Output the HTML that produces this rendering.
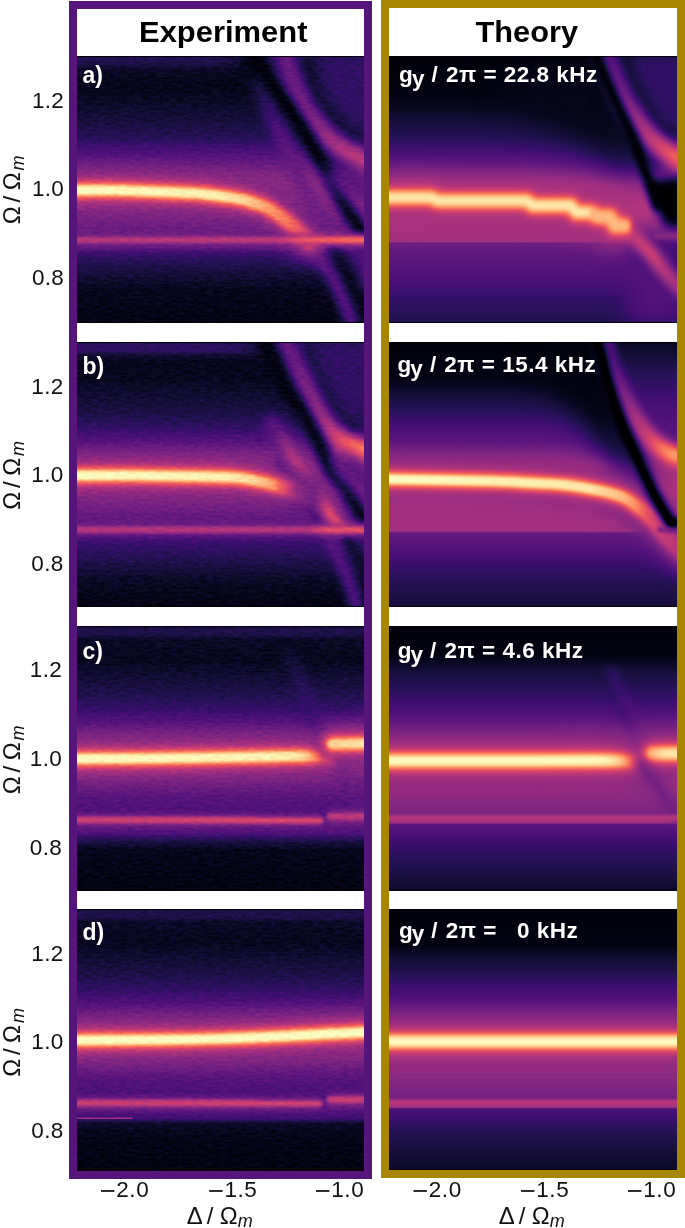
<!DOCTYPE html>
<html><head><meta charset="utf-8"><title>Figure</title>
<style>
html,body{margin:0;padding:0;background:#fff;}
body{width:685px;height:1228px;position:relative;overflow:hidden;font-family:"Liberation Sans",sans-serif;}
.box{position:absolute;box-sizing:border-box;z-index:2;}
.pn{position:absolute;overflow:hidden;background:#000;}
.pn svg{display:block;}
.t{position:absolute;white-space:nowrap;line-height:1;}
.hd{font-weight:bold;font-size:29px;color:#000;}
.tk{font-size:20px;color:#111;}
.lb{font-weight:bold;color:#fff;font-size:21px;}
.ax{font-size:23px;color:#111;}
.ax i{font-size:17px;position:relative;top:5px;}
.mnb{position:absolute;width:13.4px;height:1.75px;background:#111;}
.pl{font-weight:bold;color:#fff;font-size:24px;}
.lb sub{font-size:17px;vertical-align:baseline;position:relative;top:4px;}
.rl{transform-origin:0 0;transform:rotate(-90deg);}
</style></head><body>
<svg width="0" height="0" style="position:absolute"><defs><filter id="b0_5" filterUnits="userSpaceOnUse" x="-60" y="-60" width="420" height="400" color-interpolation-filters="sRGB"><feGaussianBlur stdDeviation="0.5"/></filter><filter id="b1" filterUnits="userSpaceOnUse" x="-60" y="-60" width="420" height="400" color-interpolation-filters="sRGB"><feGaussianBlur stdDeviation="1"/></filter><filter id="b1_5" filterUnits="userSpaceOnUse" x="-60" y="-60" width="420" height="400" color-interpolation-filters="sRGB"><feGaussianBlur stdDeviation="1.5"/></filter><filter id="b1_8" filterUnits="userSpaceOnUse" x="-60" y="-60" width="420" height="400" color-interpolation-filters="sRGB"><feGaussianBlur stdDeviation="1.8"/></filter><filter id="b2" filterUnits="userSpaceOnUse" x="-60" y="-60" width="420" height="400" color-interpolation-filters="sRGB"><feGaussianBlur stdDeviation="2"/></filter><filter id="b2_5" filterUnits="userSpaceOnUse" x="-60" y="-60" width="420" height="400" color-interpolation-filters="sRGB"><feGaussianBlur stdDeviation="2.5"/></filter><filter id="b3" filterUnits="userSpaceOnUse" x="-60" y="-60" width="420" height="400" color-interpolation-filters="sRGB"><feGaussianBlur stdDeviation="3"/></filter><filter id="b4" filterUnits="userSpaceOnUse" x="-60" y="-60" width="420" height="400" color-interpolation-filters="sRGB"><feGaussianBlur stdDeviation="4"/></filter><filter id="b4_5" filterUnits="userSpaceOnUse" x="-60" y="-60" width="420" height="400" color-interpolation-filters="sRGB"><feGaussianBlur stdDeviation="4.5"/></filter><filter id="b5" filterUnits="userSpaceOnUse" x="-60" y="-60" width="420" height="400" color-interpolation-filters="sRGB"><feGaussianBlur stdDeviation="5"/></filter><filter id="b6" filterUnits="userSpaceOnUse" x="-60" y="-60" width="420" height="400" color-interpolation-filters="sRGB"><feGaussianBlur stdDeviation="6"/></filter><filter id="b8" filterUnits="userSpaceOnUse" x="-60" y="-60" width="420" height="400" color-interpolation-filters="sRGB"><feGaussianBlur stdDeviation="8"/></filter><filter id="b10" filterUnits="userSpaceOnUse" x="-60" y="-60" width="420" height="400" color-interpolation-filters="sRGB"><feGaussianBlur stdDeviation="10"/></filter><filter id="b11" filterUnits="userSpaceOnUse" x="-60" y="-60" width="420" height="400" color-interpolation-filters="sRGB"><feGaussianBlur stdDeviation="11"/></filter><filter id="b14" filterUnits="userSpaceOnUse" x="-60" y="-60" width="420" height="400" color-interpolation-filters="sRGB"><feGaussianBlur stdDeviation="14"/></filter><filter id="b16" filterUnits="userSpaceOnUse" x="-60" y="-60" width="420" height="400" color-interpolation-filters="sRGB"><feGaussianBlur stdDeviation="16"/></filter><filter id="magma" x="0" y="0" width="100%" height="100%" filterUnits="objectBoundingBox" color-interpolation-filters="sRGB"><feComponentTransfer><feFuncR type="table" tableValues="0.0015 0.0137 0.0396 0.0743 0.1131 0.1590 0.2117 0.2654 0.3167 0.3660 0.4147 0.4635 0.5128 0.5629 0.6136 0.6649 0.7164 0.7674 0.8169 0.8633 0.9043 0.9372 0.9609 0.9767 0.9867 0.9928 0.9961 0.9973 0.9969 0.9951 0.9924 0.9894 0.9871"/><feFuncG type="table" tableValues="0.0005 0.0118 0.0311 0.0520 0.0655 0.0684 0.0620 0.0602 0.0717 0.0903 0.1104 0.1299 0.1482 0.1654 0.1818 0.1981 0.2150 0.2337 0.2559 0.2837 0.3196 0.3649 0.4183 0.4762 0.5356 0.5949 0.6537 0.7118 0.7696 0.8271 0.8843 0.9415 0.9914"/><feFuncB type="table" tableValues="0.0139 0.0687 0.1335 0.2027 0.2768 0.3527 0.4186 0.4618 0.4854 0.4980 0.5047 0.5077 0.5076 0.5047 0.4985 0.4888 0.4753 0.4578 0.4365 0.4124 0.3881 0.3686 0.3596 0.3645 0.3822 0.4103 0.4462 0.4882 0.5349 0.5857 0.6401 0.6975 0.7495"/></feComponentTransfer></filter><filter id="magmaN" x="0" y="0" width="100%" height="100%" filterUnits="objectBoundingBox" color-interpolation-filters="sRGB"><feTurbulence type="fractalNoise" baseFrequency="0.14 0.42" numOctaves="2" seed="7" result="t"/><feColorMatrix in="t" type="matrix" values="1 0 0 0 0  1 0 0 0 0  1 0 0 0 0  0 0 0 0 1" result="n"/><feComposite in="SourceGraphic" in2="n" operator="arithmetic" k1="0" k2="1" k3="0.100" k4="-0.050" result="s"/><feComponentTransfer in="s"><feFuncR type="table" tableValues="0.0015 0.0137 0.0396 0.0743 0.1131 0.1590 0.2117 0.2654 0.3167 0.3660 0.4147 0.4635 0.5128 0.5629 0.6136 0.6649 0.7164 0.7674 0.8169 0.8633 0.9043 0.9372 0.9609 0.9767 0.9867 0.9928 0.9961 0.9973 0.9969 0.9951 0.9924 0.9894 0.9871"/><feFuncG type="table" tableValues="0.0005 0.0118 0.0311 0.0520 0.0655 0.0684 0.0620 0.0602 0.0717 0.0903 0.1104 0.1299 0.1482 0.1654 0.1818 0.1981 0.2150 0.2337 0.2559 0.2837 0.3196 0.3649 0.4183 0.4762 0.5356 0.5949 0.6537 0.7118 0.7696 0.8271 0.8843 0.9415 0.9914"/><feFuncB type="table" tableValues="0.0139 0.0687 0.1335 0.2027 0.2768 0.3527 0.4186 0.4618 0.4854 0.4980 0.5047 0.5077 0.5076 0.5047 0.4985 0.4888 0.4753 0.4578 0.4365 0.4124 0.3881 0.3686 0.3596 0.3645 0.3822 0.4103 0.4462 0.4882 0.5349 0.5857 0.6401 0.6975 0.7495"/></feComponentTransfer></filter></defs></svg>
<div class="box" style="left:68.5px;top:1px;width:303.5px;height:1177.6px;border:8.3px solid #55157a;"></div>
<div class="box" style="left:381px;top:0px;width:304px;height:1177.6px;border:8.3px solid #a98600;"></div>
<div class="pn" style="left:75.5px;top:56.0px;width:290.0px;height:267.0px"><svg class="hm" width="290.0" height="268.5" viewBox="-1.5 0 290.0 268.5" preserveAspectRatio="none"><defs><linearGradient id="g1" x1="0" y1="0" x2="0" y2="1"><stop offset="0.0000" stop-color="#1f1f1f"/><stop offset="0.0112" stop-color="#242424"/><stop offset="0.0300" stop-color="#1f1f1f"/><stop offset="0.0487" stop-color="#121212"/><stop offset="0.1124" stop-color="#0d0d0d"/><stop offset="0.1873" stop-color="#141414"/><stop offset="0.2434" stop-color="#1c1c1c"/><stop offset="0.2996" stop-color="#262626"/><stop offset="0.3446" stop-color="#383838"/><stop offset="0.3933" stop-color="#4c4c4c"/><stop offset="0.4307" stop-color="#5c5c5c"/><stop offset="0.4682" stop-color="#666666"/><stop offset="0.5431" stop-color="#666666"/><stop offset="0.5993" stop-color="#575757"/><stop offset="0.6667" stop-color="#4c4c4c"/><stop offset="0.7116" stop-color="#454545"/><stop offset="0.7303" stop-color="#333333"/><stop offset="0.7640" stop-color="#262626"/><stop offset="0.8052" stop-color="#1a1a1a"/><stop offset="0.8614" stop-color="#0f0f0f"/><stop offset="1.0000" stop-color="#090909"/></linearGradient><linearGradient id="g2" gradientUnits="userSpaceOnUse" x1="205.0" y1="0" x2="290.0" y2="0"><stop offset="0.0000" stop-color="#4c4c4c"/><stop offset="0.4118" stop-color="#666666"/><stop offset="0.7647" stop-color="#858585"/><stop offset="1.0000" stop-color="#949494"/></linearGradient><linearGradient id="g3" gradientUnits="userSpaceOnUse" x1="176.0" y1="0" x2="258.0" y2="0"><stop offset="0.0000" stop-color="#141414"/><stop offset="0.1707" stop-color="#383838"/><stop offset="0.3537" stop-color="#4c4c4c"/><stop offset="1.0000" stop-color="#525252"/></linearGradient><linearGradient id="g4" gradientUnits="userSpaceOnUse" x1="0.0" y1="0" x2="232.0" y2="0"><stop offset="0.0000" stop-color="#666666"/><stop offset="0.6034" stop-color="#656565"/><stop offset="0.7328" stop-color="#616161"/><stop offset="0.8190" stop-color="#5d5d5d"/><stop offset="0.9052" stop-color="#585858"/><stop offset="1.0000" stop-color="#545454"/></linearGradient><linearGradient id="g5" gradientUnits="userSpaceOnUse" x1="0.0" y1="0" x2="232.0" y2="0"><stop offset="0.0000" stop-color="#8f8f8f"/><stop offset="0.6034" stop-color="#8d8d8d"/><stop offset="0.7328" stop-color="#888888"/><stop offset="0.8190" stop-color="#828282"/><stop offset="0.9052" stop-color="#7c7c7c"/><stop offset="1.0000" stop-color="#757575"/></linearGradient><linearGradient id="g6" gradientUnits="userSpaceOnUse" x1="0.0" y1="0" x2="232.0" y2="0"><stop offset="0.0000" stop-color="#c7c7c7"/><stop offset="0.6034" stop-color="#c4c4c4"/><stop offset="0.7328" stop-color="#bebebe"/><stop offset="0.8190" stop-color="#b5b5b5"/><stop offset="0.9052" stop-color="#acacac"/><stop offset="1.0000" stop-color="#999999"/></linearGradient><linearGradient id="g7" gradientUnits="userSpaceOnUse" x1="0.0" y1="0" x2="232.0" y2="0"><stop offset="0.0000" stop-color="#ffffff"/><stop offset="0.6034" stop-color="#f7f7f7"/><stop offset="0.7328" stop-color="#e6e6e6"/><stop offset="0.8190" stop-color="#cccccc"/><stop offset="0.9052" stop-color="#b2b2b2"/><stop offset="1.0000" stop-color="#999999"/></linearGradient><linearGradient id="g8" gradientUnits="userSpaceOnUse" x1="0.0" y1="0" x2="287.0" y2="0"><stop offset="0.0000" stop-color="#595959"/><stop offset="0.6969" stop-color="#5d5d5d"/><stop offset="0.7944" stop-color="#727272"/><stop offset="1.0000" stop-color="#7d7d7d"/></linearGradient><linearGradient id="g9" gradientUnits="userSpaceOnUse" x1="0.0" y1="0" x2="287.0" y2="0"><stop offset="0.0000" stop-color="#808080"/><stop offset="0.6969" stop-color="#858585"/><stop offset="0.7944" stop-color="#a3a3a3"/><stop offset="1.0000" stop-color="#b2b2b2"/></linearGradient></defs><g filter="url(#magmaN)"><rect x="-20" y="0" width="327" height="270" fill="url(#g1)"/><polygon points="150.0,0.0 287.0,0.0 287.0,110.0 260.0,120.0 235.0,80.0 200.0,40.0 160.0,20.0" fill="#0f0f0f" opacity="1.00" filter="url(#b8)"/><path d="M205.0,-5.0 C206.3,-0.8 209.5,10.7 213.0,20.0 C216.5,29.3 219.8,40.7 226.0,51.0 C232.2,61.3 241.2,73.5 250.0,82.0 C258.8,90.5 270.7,97.0 279.0,102.0 C287.3,107.0 296.5,110.3 300.0,112.0" fill="none" stroke="url(#g2)" stroke-width="22.0" stroke-linecap="round" opacity="1.00" filter="url(#b6)"/><polygon points="235.0,-5.0 295.0,-5.0 295.0,85.0 270.0,70.0 245.0,40.0" fill="#2e2e2e" opacity="1.00" filter="url(#b8)"/><path d="M176.0,0.0 C177.5,3.3 178.5,10.5 185.0,20.0 C191.5,29.5 206.5,45.0 215.0,57.0 C223.5,69.0 229.5,81.2 236.0,92.0 C242.5,102.8 249.7,114.0 254.0,122.0 C258.3,130.0 257.8,132.3 262.0,140.0 C266.2,147.7 274.0,160.3 279.0,168.0 C284.0,175.7 289.8,183.0 292.0,186.0" fill="none" stroke="#050505" stroke-width="14.0" stroke-linecap="round" opacity="1.00" filter="url(#b4)"/><path d="M265.0,122.0 L290.0,132.0" fill="none" stroke="#474747" stroke-width="30.0" stroke-linecap="round" opacity="1.00" filter="url(#b8)"/><path d="M176.0,25.0 C178.2,29.3 183.5,39.8 189.0,51.0 C194.5,62.2 202.2,77.2 209.0,92.0 C215.8,106.8 224.8,129.7 230.0,140.0 C235.2,150.3 236.0,147.7 240.0,154.0 C244.0,160.3 251.0,173.0 254.0,178.0 C257.0,183.0 257.3,183.0 258.0,184.0" fill="none" stroke="url(#g3)" stroke-width="14.0" stroke-linecap="round" opacity="1.00" filter="url(#b6)"/><path d="M228.0,188.0 C232.3,193.2 246.2,205.8 254.0,219.0 C261.8,232.2 271.5,259.0 275.0,267.0" fill="none" stroke="#4c4c4c" stroke-width="12.0" stroke-linecap="round" opacity="1.00" filter="url(#b5)"/><path d="M252.0,188.0 C255.2,193.2 264.7,208.7 271.0,219.0 C277.3,229.3 286.8,244.8 290.0,250.0" fill="none" stroke="#0f0f0f" stroke-width="10.0" stroke-linecap="round" opacity="1.00" filter="url(#b4)"/><polygon points="272.0,186.0 295.0,186.0 295.0,240.0 285.0,230.0" fill="#404040" opacity="1.00" filter="url(#b5)"/><path d="M-10.0,134.3 C-3.3,134.3 18.3,134.2 30.0,134.3 C41.7,134.4 48.3,134.6 60.0,135.0 C71.7,135.4 89.2,136.0 100.0,136.5 C110.8,137.0 117.0,137.3 125.0,138.0 C133.0,138.7 140.8,139.7 148.0,140.8 C155.2,141.9 161.2,142.6 168.0,144.4 C174.8,146.2 182.8,148.6 189.0,151.5 C195.2,154.4 200.2,158.3 205.0,161.7 C209.8,165.1 214.1,168.8 217.5,172.0 C220.9,175.2 223.3,178.9 225.7,181.2 C228.1,183.5 230.9,185.2 232.0,186.0" fill="none" stroke="url(#g4)" stroke-width="40.0" stroke-linecap="round" opacity="1.00" filter="url(#b8)"/><path d="M-10.0,134.3 C-3.3,134.3 18.3,134.2 30.0,134.3 C41.7,134.4 48.3,134.6 60.0,135.0 C71.7,135.4 89.2,136.0 100.0,136.5 C110.8,137.0 117.0,137.3 125.0,138.0 C133.0,138.7 140.8,139.7 148.0,140.8 C155.2,141.9 161.2,142.6 168.0,144.4 C174.8,146.2 182.8,148.6 189.0,151.5 C195.2,154.4 200.2,158.3 205.0,161.7 C209.8,165.1 214.1,168.8 217.5,172.0 C220.9,175.2 223.3,178.9 225.7,181.2 C228.1,183.5 230.9,185.2 232.0,186.0" fill="none" stroke="url(#g5)" stroke-width="24.0" stroke-linecap="round" opacity="1.00" filter="url(#b4_5)"/><path d="M-10.0,134.3 C-3.3,134.3 18.3,134.2 30.0,134.3 C41.7,134.4 48.3,134.6 60.0,135.0 C71.7,135.4 89.2,136.0 100.0,136.5 C110.8,137.0 117.0,137.3 125.0,138.0 C133.0,138.7 140.8,139.7 148.0,140.8 C155.2,141.9 161.2,142.6 168.0,144.4 C174.8,146.2 182.8,148.6 189.0,151.5 C195.2,154.4 200.2,158.3 205.0,161.7 C209.8,165.1 214.1,168.8 217.5,172.0 C220.9,175.2 223.3,178.9 225.7,181.2 C228.1,183.5 230.9,185.2 232.0,186.0" fill="none" stroke="url(#g6)" stroke-width="15.0" stroke-linecap="round" opacity="1.00" filter="url(#b2_5)"/><path d="M-10.0,134.3 C-3.3,134.3 18.3,134.2 30.0,134.3 C41.7,134.4 48.3,134.6 60.0,135.0 C71.7,135.4 89.2,136.0 100.0,136.5 C110.8,137.0 117.0,137.3 125.0,138.0 C133.0,138.7 140.8,139.7 148.0,140.8 C155.2,141.9 161.2,142.6 168.0,144.4 C174.8,146.2 182.8,148.6 189.0,151.5 C195.2,154.4 200.2,158.3 205.0,161.7 C209.8,165.1 214.1,168.8 217.5,172.0 C220.9,175.2 223.3,178.9 225.7,181.2 C228.1,183.5 230.9,185.2 232.0,186.0" fill="none" stroke="url(#g7)" stroke-width="9.0" stroke-linecap="round" opacity="1.00" filter="url(#b1_8)"/><path d="M-10.0,184.1 L300.0,184.1" fill="none" stroke="url(#g8)" stroke-width="12.0" stroke-linecap="butt" opacity="1.00" filter="url(#b3)"/><path d="M-10.0,184.1 L300.0,184.1" fill="none" stroke="url(#g9)" stroke-width="6.0" stroke-linecap="butt" opacity="1.00" filter="url(#b1_5)"/></g><rect x="-2" y="0" width="291.0" height="1" fill="#000" opacity="0.85"/><rect x="-2" y="266.0" width="291.0" height="1" fill="#000" opacity="0.85"/></svg></div>
<div class="pn" style="left:387.8px;top:56.0px;width:290.2px;height:267.0px"><svg class="hm" width="290.2" height="268.5" viewBox="-1.5 0 290.2 268.5" preserveAspectRatio="none"><defs><linearGradient id="g10" x1="0" y1="0" x2="0" y2="1"><stop offset="0.0000" stop-color="#050505"/><stop offset="0.1311" stop-color="#080808"/><stop offset="0.1873" stop-color="#0f0f0f"/><stop offset="0.2434" stop-color="#1a1a1a"/><stop offset="0.2996" stop-color="#262626"/><stop offset="0.3558" stop-color="#383838"/><stop offset="0.4045" stop-color="#4c4c4c"/><stop offset="0.4419" stop-color="#616161"/><stop offset="0.4757" stop-color="#757575"/><stop offset="0.5618" stop-color="#808080"/><stop offset="0.6367" stop-color="#787878"/><stop offset="0.6873" stop-color="#737373"/><stop offset="0.6929" stop-color="#525252"/><stop offset="0.7491" stop-color="#474747"/><stop offset="0.8240" stop-color="#3d3d3d"/><stop offset="0.9026" stop-color="#2e2e2e"/><stop offset="1.0000" stop-color="#212121"/></linearGradient><linearGradient id="g11" gradientUnits="userSpaceOnUse" x1="215.0" y1="0" x2="288.0" y2="0"><stop offset="0.0000" stop-color="#404040"/><stop offset="0.3425" stop-color="#666666"/><stop offset="0.5890" stop-color="#858585"/><stop offset="1.0000" stop-color="#b2b2b2"/></linearGradient><linearGradient id="g12" gradientUnits="userSpaceOnUse" x1="240.0" y1="0" x2="292.0" y2="0"><stop offset="0.0000" stop-color="#8c8c8c"/><stop offset="0.4231" stop-color="#949494"/><stop offset="0.6731" stop-color="#808080"/><stop offset="1.0000" stop-color="#7a7a7a"/></linearGradient></defs><g filter="url(#magma)"><rect x="-20" y="0" width="327" height="270" fill="url(#g10)"/><polygon points="165.0,0.0 287.0,0.0 287.0,100.0 262.0,112.0 243.0,82.0 229.0,51.0 215.0,20.0 205.0,0.0" fill="#080808" opacity="1.00" filter="url(#b10)"/><polygon points="110.0,25.0 205.0,0.0 215.0,20.0 229.0,51.0 244.0,82.0 255.0,112.0 248.0,122.0 220.0,105.0 180.0,80.0 130.0,55.0" fill="#0d0d0d" opacity="1.00" filter="url(#b16)"/><path d="M215.0,-5.0 C218.0,2.7 225.8,27.2 233.0,41.0 C240.2,54.8 250.5,68.8 258.0,78.0 C265.5,87.2 272.3,91.7 278.0,96.0 C283.7,100.3 289.7,102.7 292.0,104.0" fill="none" stroke="url(#g11)" stroke-width="22.0" stroke-linecap="round" opacity="1.00" filter="url(#b6)"/><polygon points="235.0,-5.0 295.0,-5.0 295.0,80.0 270.0,70.0 245.0,25.0" fill="#2e2e2e" opacity="1.00" filter="url(#b8)"/><path d="M205.0,-5.0 C206.7,-0.8 211.0,10.7 215.0,20.0 C219.0,29.3 224.2,40.7 229.0,51.0 C233.8,61.3 239.8,71.8 244.0,82.0 C248.2,92.2 251.0,104.0 254.0,112.0 C257.0,120.0 259.7,123.7 262.0,130.0 C264.3,136.3 267.0,146.7 268.0,150.0" fill="none" stroke="#000000" stroke-width="10.0" stroke-linecap="round" opacity="1.00" filter="url(#b3)"/><polygon points="255.0,125.0 295.0,120.0 295.0,175.0 275.0,172.0" fill="#000000" opacity="1.00" filter="url(#b5)"/><polygon points="272.0,190.0 295.0,188.0 295.0,215.0 282.0,210.0" fill="#080808" opacity="1.00" filter="url(#b4)"/><polygon points="238.0,175.0 295.0,175.0 295.0,267.0 238.0,267.0" fill="#404040" opacity="1.00" filter="url(#b10)"/><path d="M240.0,178.0 C241.7,179.3 246.3,182.7 250.0,186.0 C253.7,189.3 257.8,193.2 262.0,198.0 C266.2,202.8 270.0,209.0 275.0,215.0 C280.0,221.0 289.2,230.8 292.0,234.0" fill="none" stroke="url(#g12)" stroke-width="14.0" stroke-linecap="round" opacity="1.00" filter="url(#b4)"/><path d="M265.0,180.0 L300.0,180.0" fill="none" stroke="#616161" stroke-width="6.0" stroke-linecap="butt" opacity="1.00" filter="url(#b1_5)"/><polyline points="-10.0,141.4 42.0,141.4 48.0,144.7 137.0,144.7 143.0,149.5 181.0,149.5 187.0,156.6 202.0,156.6 208.0,160.7 220.0,160.7 226.0,170.0 240.0,170.0" fill="none" stroke="#737373" stroke-width="44.0" opacity="1.00" filter="url(#b10)"/><polyline points="-10.0,141.4 42.0,141.4 48.0,144.7 137.0,144.7 143.0,149.5 181.0,149.5 187.0,156.6 202.0,156.6 208.0,160.7 220.0,160.7 226.0,170.0 240.0,170.0" fill="none" stroke="#949494" stroke-width="24.0" opacity="1.00" filter="url(#b5)"/><polyline points="-10.0,141.4 42.0,141.4 48.0,144.7 137.0,144.7 143.0,149.5 181.0,149.5 187.0,156.6 202.0,156.6 208.0,160.7 220.0,160.7 226.0,170.0 240.0,170.0" fill="none" stroke="#c7c7c7" stroke-width="16.0" opacity="1.00" filter="url(#b3)"/><polyline points="-10.0,141.4 42.0,141.4 48.0,144.7 137.0,144.7 143.0,149.5 181.0,149.5 187.0,156.6 202.0,156.6" fill="none" stroke="#f5f5f5" stroke-width="9.0" opacity="1.00" filter="url(#b2_5)"/><polyline points="202.0,156.6 208.0,160.7 220.0,160.7 226.0,170.0 240.0,170.0" fill="none" stroke="#dbdbdb" stroke-width="9.0" opacity="1.00" filter="url(#b2_5)"/></g><rect x="-2" y="0" width="291.2" height="1" fill="#000" opacity="0.85"/><rect x="-2" y="266.0" width="291.2" height="1" fill="#000" opacity="0.85"/></svg></div>
<div class="pn" style="left:75.5px;top:342.0px;width:290.0px;height:265.0px"><svg class="hm" width="290.0" height="266.5" viewBox="-1.5 0 290.0 266.5" preserveAspectRatio="none"><defs><linearGradient id="g13" x1="0" y1="0" x2="0" y2="1"><stop offset="0.0000" stop-color="#1a1a1a"/><stop offset="0.0075" stop-color="#2b2b2b"/><stop offset="0.0340" stop-color="#2b2b2b"/><stop offset="0.0491" stop-color="#171717"/><stop offset="0.0679" stop-color="#0f0f0f"/><stop offset="0.1321" stop-color="#0f0f0f"/><stop offset="0.2075" stop-color="#171717"/><stop offset="0.2642" stop-color="#1f1f1f"/><stop offset="0.3208" stop-color="#2e2e2e"/><stop offset="0.3698" stop-color="#424242"/><stop offset="0.4151" stop-color="#575757"/><stop offset="0.4528" stop-color="#666666"/><stop offset="0.5472" stop-color="#666666"/><stop offset="0.6038" stop-color="#575757"/><stop offset="0.6792" stop-color="#474747"/><stop offset="0.7019" stop-color="#454545"/><stop offset="0.7245" stop-color="#383838"/><stop offset="0.7698" stop-color="#2e2e2e"/><stop offset="0.8226" stop-color="#212121"/><stop offset="0.8868" stop-color="#121212"/><stop offset="1.0000" stop-color="#090909"/></linearGradient><linearGradient id="g14" gradientUnits="userSpaceOnUse" x1="205.0" y1="0" x2="288.0" y2="0"><stop offset="0.0000" stop-color="#474747"/><stop offset="0.4217" stop-color="#6b6b6b"/><stop offset="0.6867" stop-color="#9e9e9e"/><stop offset="0.9036" stop-color="#c7c7c7"/><stop offset="1.0000" stop-color="#cccccc"/></linearGradient><linearGradient id="g15" gradientUnits="userSpaceOnUse" x1="194.0" y1="0" x2="266.0" y2="0"><stop offset="0.0000" stop-color="#474747"/><stop offset="0.2222" stop-color="#5c5c5c"/><stop offset="0.4306" stop-color="#6b6b6b"/><stop offset="1.0000" stop-color="#737373"/></linearGradient><linearGradient id="g16" gradientUnits="userSpaceOnUse" x1="204.0" y1="0" x2="266.0" y2="0"><stop offset="0.0000" stop-color="#595959"/><stop offset="0.1774" stop-color="#858585"/><stop offset="0.4194" stop-color="#999999"/><stop offset="1.0000" stop-color="#a3a3a3"/></linearGradient><linearGradient id="g17" gradientUnits="userSpaceOnUse" x1="0.0" y1="0" x2="226.0" y2="0"><stop offset="0.0000" stop-color="#666666"/><stop offset="0.6637" stop-color="#656565"/><stop offset="0.7965" stop-color="#616161"/><stop offset="0.8628" stop-color="#5d5d5d"/><stop offset="0.9115" stop-color="#555555"/><stop offset="0.9558" stop-color="#4d4d4d"/><stop offset="1.0000" stop-color="#494949"/></linearGradient><linearGradient id="g18" gradientUnits="userSpaceOnUse" x1="0.0" y1="0" x2="226.0" y2="0"><stop offset="0.0000" stop-color="#8f8f8f"/><stop offset="0.6637" stop-color="#8d8d8d"/><stop offset="0.7965" stop-color="#888888"/><stop offset="0.8628" stop-color="#828282"/><stop offset="0.9115" stop-color="#767676"/><stop offset="0.9558" stop-color="#6b6b6b"/><stop offset="1.0000" stop-color="#5c5c5c"/></linearGradient><linearGradient id="g19" gradientUnits="userSpaceOnUse" x1="0.0" y1="0" x2="226.0" y2="0"><stop offset="0.0000" stop-color="#c7c7c7"/><stop offset="0.6637" stop-color="#c4c4c4"/><stop offset="0.7965" stop-color="#bebebe"/><stop offset="0.8628" stop-color="#b5b5b5"/><stop offset="0.9115" stop-color="#9e9e9e"/><stop offset="0.9558" stop-color="#737373"/><stop offset="1.0000" stop-color="#5c5c5c"/></linearGradient><linearGradient id="g20" gradientUnits="userSpaceOnUse" x1="0.0" y1="0" x2="226.0" y2="0"><stop offset="0.0000" stop-color="#ffffff"/><stop offset="0.6637" stop-color="#f7f7f7"/><stop offset="0.7965" stop-color="#e6e6e6"/><stop offset="0.8628" stop-color="#cccccc"/><stop offset="0.9115" stop-color="#9e9e9e"/><stop offset="0.9558" stop-color="#737373"/><stop offset="1.0000" stop-color="#5c5c5c"/></linearGradient><linearGradient id="g21" gradientUnits="userSpaceOnUse" x1="0.0" y1="0" x2="287.0" y2="0"><stop offset="0.0000" stop-color="#595959"/><stop offset="0.8014" stop-color="#595959"/><stop offset="0.8711" stop-color="#6f6f6f"/><stop offset="1.0000" stop-color="#6f6f6f"/></linearGradient><linearGradient id="g22" gradientUnits="userSpaceOnUse" x1="0.0" y1="0" x2="287.0" y2="0"><stop offset="0.0000" stop-color="#808080"/><stop offset="0.8014" stop-color="#808080"/><stop offset="0.8711" stop-color="#9e9e9e"/><stop offset="1.0000" stop-color="#9e9e9e"/></linearGradient></defs><g filter="url(#magmaN)"><rect x="-20" y="0" width="327" height="268" fill="url(#g13)"/><polygon points="160.0,0.0 287.0,0.0 287.0,105.0 250.0,95.0 215.0,50.0 185.0,20.0" fill="#121212" opacity="1.00" filter="url(#b8)"/><path d="M205.0,-5.0 C208.5,2.7 219.5,27.2 226.0,41.0 C232.5,54.8 238.0,68.5 244.0,78.0 C250.0,87.5 254.7,92.7 262.0,98.0 C269.3,103.3 281.7,107.5 288.0,110.0 C294.3,112.5 298.0,112.5 300.0,113.0" fill="none" stroke="url(#g14)" stroke-width="22.0" stroke-linecap="round" opacity="1.00" filter="url(#b6)"/><polygon points="230.0,-5.0 295.0,-5.0 295.0,90.0 265.0,75.0 240.0,30.0" fill="#2e2e2e" opacity="1.00" filter="url(#b8)"/><path d="M186.0,-5.0 C189.5,2.7 200.3,28.2 207.0,41.0 C213.7,53.8 220.5,62.5 226.0,72.0 C231.5,81.5 235.3,88.3 240.0,98.0 C244.7,107.7 249.3,122.0 254.0,130.0 C258.7,138.0 263.7,139.8 268.0,146.0 C272.3,152.2 276.0,160.5 280.0,167.0 C284.0,173.5 290.0,182.0 292.0,185.0" fill="none" stroke="#080808" stroke-width="14.0" stroke-linecap="round" opacity="1.00" filter="url(#b4)"/><path d="M270.0,125.0 L292.0,140.0" fill="none" stroke="#474747" stroke-width="28.0" stroke-linecap="round" opacity="1.00" filter="url(#b8)"/><path d="M200.0,120.0 C202.0,123.0 207.3,131.3 212.0,138.0 C216.7,144.7 223.0,153.0 228.0,160.0 C233.0,167.0 239.7,176.7 242.0,180.0" fill="none" stroke="#2e2e2e" stroke-width="7.0" stroke-linecap="round" opacity="1.00" filter="url(#b3)"/><path d="M194.0,82.0 C196.3,85.8 202.7,96.7 208.0,105.0 C213.3,113.3 220.3,123.5 226.0,132.0 C231.7,140.5 236.5,147.8 242.0,156.0 C247.5,164.2 255.0,175.7 259.0,181.0 C263.0,186.3 264.8,186.8 266.0,188.0" fill="none" stroke="url(#g15)" stroke-width="16.0" stroke-linecap="round" opacity="1.00" filter="url(#b6)"/><path d="M204.0,98.0 C204.7,99.2 204.3,99.3 208.0,105.0 C211.7,110.7 220.3,123.5 226.0,132.0 C231.7,140.5 236.5,147.8 242.0,156.0 C247.5,164.2 255.0,175.7 259.0,181.0 C263.0,186.3 264.8,186.8 266.0,188.0" fill="none" stroke="url(#g16)" stroke-width="9.0" stroke-linecap="round" opacity="1.00" filter="url(#b3)"/><path d="M250.0,192.0 C253.5,199.5 266.2,224.8 271.0,237.0 C275.8,249.2 277.7,260.3 279.0,265.0" fill="none" stroke="#474747" stroke-width="12.0" stroke-linecap="round" opacity="1.00" filter="url(#b5)"/><path d="M268.0,192.0 C270.8,197.5 280.5,215.3 285.0,225.0 C289.5,234.7 293.3,245.8 295.0,250.0" fill="none" stroke="#141414" stroke-width="10.0" stroke-linecap="round" opacity="1.00" filter="url(#b4)"/><path d="M-10.0,133.4 C1.7,133.4 38.3,133.4 60.0,133.6 C81.7,133.8 105.0,134.2 120.0,134.5 C135.0,134.8 142.0,134.8 150.0,135.2 C158.0,135.6 160.7,135.7 168.0,136.8 C175.3,138.0 186.7,140.3 194.0,142.1 C201.3,143.8 206.7,145.7 212.0,147.3 C217.3,149.0 223.7,151.2 226.0,152.0" fill="none" stroke="url(#g17)" stroke-width="40.0" stroke-linecap="round" opacity="1.00" filter="url(#b8)"/><path d="M-10.0,133.4 C1.7,133.4 38.3,133.4 60.0,133.6 C81.7,133.8 105.0,134.2 120.0,134.5 C135.0,134.8 142.0,134.8 150.0,135.2 C158.0,135.6 160.7,135.7 168.0,136.8 C175.3,138.0 186.7,140.3 194.0,142.1 C201.3,143.8 206.7,145.7 212.0,147.3 C217.3,149.0 223.7,151.2 226.0,152.0" fill="none" stroke="url(#g18)" stroke-width="24.0" stroke-linecap="round" opacity="1.00" filter="url(#b4_5)"/><path d="M-10.0,133.4 C1.7,133.4 38.3,133.4 60.0,133.6 C81.7,133.8 105.0,134.2 120.0,134.5 C135.0,134.8 142.0,134.8 150.0,135.2 C158.0,135.6 160.7,135.7 168.0,136.8 C175.3,138.0 186.7,140.3 194.0,142.1 C201.3,143.8 206.7,145.7 212.0,147.3 C217.3,149.0 223.7,151.2 226.0,152.0" fill="none" stroke="url(#g19)" stroke-width="15.0" stroke-linecap="round" opacity="1.00" filter="url(#b2_5)"/><path d="M-10.0,133.4 C1.7,133.4 38.3,133.4 60.0,133.6 C81.7,133.8 105.0,134.2 120.0,134.5 C135.0,134.8 142.0,134.8 150.0,135.2 C158.0,135.6 160.7,135.7 168.0,136.8 C175.3,138.0 186.7,140.3 194.0,142.1 C201.3,143.8 206.7,145.7 212.0,147.3 C217.3,149.0 223.7,151.2 226.0,152.0" fill="none" stroke="url(#g20)" stroke-width="9.0" stroke-linecap="round" opacity="1.00" filter="url(#b1_8)"/><path d="M-10.0,187.8 L300.0,187.8" fill="none" stroke="url(#g21)" stroke-width="12.0" stroke-linecap="butt" opacity="1.00" filter="url(#b3)"/><path d="M-10.0,187.8 L300.0,187.8" fill="none" stroke="url(#g22)" stroke-width="6.0" stroke-linecap="butt" opacity="1.00" filter="url(#b1_5)"/></g><rect x="-2" y="0" width="291.0" height="1" fill="#000" opacity="0.85"/><rect x="-2" y="264.0" width="291.0" height="1" fill="#000" opacity="0.85"/></svg></div>
<div class="pn" style="left:387.8px;top:342.0px;width:290.2px;height:265.0px"><svg class="hm" width="290.2" height="266.5" viewBox="-1.5 0 290.2 266.5" preserveAspectRatio="none"><defs><linearGradient id="g23" x1="0" y1="0" x2="0" y2="1"><stop offset="0.0000" stop-color="#050505"/><stop offset="0.1396" stop-color="#0a0a0a"/><stop offset="0.1887" stop-color="#171717"/><stop offset="0.2491" stop-color="#262626"/><stop offset="0.3094" stop-color="#383838"/><stop offset="0.3698" stop-color="#474747"/><stop offset="0.4151" stop-color="#5c5c5c"/><stop offset="0.4604" stop-color="#757575"/><stop offset="0.5660" stop-color="#7a7a7a"/><stop offset="0.6415" stop-color="#737373"/><stop offset="0.7057" stop-color="#737373"/><stop offset="0.7132" stop-color="#4c4c4c"/><stop offset="0.7736" stop-color="#404040"/><stop offset="0.8264" stop-color="#333333"/><stop offset="0.9057" stop-color="#242424"/><stop offset="1.0000" stop-color="#1a1a1a"/></linearGradient><linearGradient id="g24" gradientUnits="userSpaceOnUse" x1="0" y1="0.0" x2="0" y2="110.0"><stop offset="0.0000" stop-color="#0f0f0f"/><stop offset="0.1818" stop-color="#1f1f1f"/><stop offset="0.5455" stop-color="#383838"/><stop offset="1.0000" stop-color="#4c4c4c"/></linearGradient><linearGradient id="g25" gradientUnits="userSpaceOnUse" x1="214.0" y1="0" x2="288.0" y2="0"><stop offset="0.0000" stop-color="#404040"/><stop offset="0.3243" stop-color="#6b6b6b"/><stop offset="0.6216" stop-color="#949494"/><stop offset="0.8514" stop-color="#c7c7c7"/><stop offset="1.0000" stop-color="#d1d1d1"/></linearGradient><linearGradient id="g26" gradientUnits="userSpaceOnUse" x1="0.0" y1="0" x2="288.0" y2="0"><stop offset="0.0000" stop-color="#666666"/><stop offset="0.6944" stop-color="#646464"/><stop offset="0.8125" stop-color="#5f5f5f"/><stop offset="0.8576" stop-color="#5b5b5b"/><stop offset="0.8958" stop-color="#555555"/><stop offset="0.9375" stop-color="#515151"/><stop offset="1.0000" stop-color="#4f4f4f"/></linearGradient><linearGradient id="g27" gradientUnits="userSpaceOnUse" x1="0.0" y1="0" x2="288.0" y2="0"><stop offset="0.0000" stop-color="#8f8f8f"/><stop offset="0.6944" stop-color="#8c8c8c"/><stop offset="0.8125" stop-color="#858585"/><stop offset="0.8576" stop-color="#7f7f7f"/><stop offset="0.8958" stop-color="#767676"/><stop offset="0.9375" stop-color="#727272"/><stop offset="1.0000" stop-color="#6f6f6f"/></linearGradient><linearGradient id="g28" gradientUnits="userSpaceOnUse" x1="0.0" y1="0" x2="288.0" y2="0"><stop offset="0.0000" stop-color="#c7c7c7"/><stop offset="0.6944" stop-color="#c2c2c2"/><stop offset="0.8125" stop-color="#b9b9b9"/><stop offset="0.8576" stop-color="#b1b1b1"/><stop offset="0.8958" stop-color="#9e9e9e"/><stop offset="0.9375" stop-color="#8c8c8c"/><stop offset="1.0000" stop-color="#808080"/></linearGradient><linearGradient id="g29" gradientUnits="userSpaceOnUse" x1="0.0" y1="0" x2="288.0" y2="0"><stop offset="0.0000" stop-color="#ffffff"/><stop offset="0.6944" stop-color="#f2f2f2"/><stop offset="0.8125" stop-color="#d9d9d9"/><stop offset="0.8576" stop-color="#bfbfbf"/><stop offset="0.8958" stop-color="#9e9e9e"/><stop offset="0.9375" stop-color="#8c8c8c"/><stop offset="1.0000" stop-color="#808080"/></linearGradient></defs><g filter="url(#magma)"><rect x="-20" y="0" width="327" height="268" fill="url(#g23)"/><polygon points="150.0,0.0 212.0,0.0 222.0,45.0 236.0,88.0 251.0,120.0 264.0,152.0 245.0,145.0 215.0,110.0 185.0,70.0 150.0,35.0" fill="#080808" opacity="1.00" filter="url(#b14)"/><polygon points="212.0,-10.0 300.0,-10.0 300.0,125.0 275.0,112.0 255.0,95.0 235.0,60.0 222.0,25.0" fill="url(#g24)" filter="url(#b4)"/><path d="M214.0,-5.0 C214.8,-0.5 215.0,10.3 219.0,22.0 C223.0,33.7 231.2,52.5 238.0,65.0 C244.8,77.5 253.5,89.5 260.0,97.0 C266.5,104.5 271.7,107.0 277.0,110.0 C282.3,113.0 289.5,114.2 292.0,115.0" fill="none" stroke="url(#g25)" stroke-width="18.0" stroke-linecap="round" opacity="1.00" filter="url(#b5)"/><path d="M-10.0,137.0 C8.3,137.3 73.7,138.3 100.0,139.0 C126.3,139.7 134.7,140.6 148.0,141.3 C161.3,142.1 169.3,142.2 180.0,143.5 C190.7,144.8 203.0,147.0 212.0,149.0 C221.0,151.0 228.2,152.9 234.0,155.4 C239.8,157.9 243.0,161.1 247.0,164.0 C251.0,166.9 254.5,169.4 258.0,172.6 C261.5,175.8 264.2,179.1 268.0,183.4 C271.8,187.7 276.5,193.7 281.0,198.5 C285.5,203.3 292.7,209.8 295.0,212.0" fill="none" stroke="url(#g26)" stroke-width="40.0" stroke-linecap="round" opacity="1.00" filter="url(#b8)"/><path d="M-10.0,137.0 C8.3,137.3 73.7,138.3 100.0,139.0 C126.3,139.7 134.7,140.6 148.0,141.3 C161.3,142.1 169.3,142.2 180.0,143.5 C190.7,144.8 203.0,147.0 212.0,149.0 C221.0,151.0 228.2,152.9 234.0,155.4 C239.8,157.9 243.0,161.1 247.0,164.0 C251.0,166.9 254.5,169.4 258.0,172.6 C261.5,175.8 264.2,179.1 268.0,183.4 C271.8,187.7 276.5,193.7 281.0,198.5 C285.5,203.3 292.7,209.8 295.0,212.0" fill="none" stroke="url(#g27)" stroke-width="24.0" stroke-linecap="round" opacity="1.00" filter="url(#b4_5)"/><path d="M-10.0,137.0 C8.3,137.3 73.7,138.3 100.0,139.0 C126.3,139.7 134.7,140.6 148.0,141.3 C161.3,142.1 169.3,142.2 180.0,143.5 C190.7,144.8 203.0,147.0 212.0,149.0 C221.0,151.0 228.2,152.9 234.0,155.4 C239.8,157.9 243.0,161.1 247.0,164.0 C251.0,166.9 254.5,169.4 258.0,172.6 C261.5,175.8 264.2,179.1 268.0,183.4 C271.8,187.7 276.5,193.7 281.0,198.5 C285.5,203.3 292.7,209.8 295.0,212.0" fill="none" stroke="url(#g28)" stroke-width="15.0" stroke-linecap="round" opacity="1.00" filter="url(#b2_5)"/><path d="M-10.0,137.0 C8.3,137.3 73.7,138.3 100.0,139.0 C126.3,139.7 134.7,140.6 148.0,141.3 C161.3,142.1 169.3,142.2 180.0,143.5 C190.7,144.8 203.0,147.0 212.0,149.0 C221.0,151.0 228.2,152.9 234.0,155.4 C239.8,157.9 243.0,161.1 247.0,164.0 C251.0,166.9 254.5,169.4 258.0,172.6 C261.5,175.8 264.2,179.1 268.0,183.4 C271.8,187.7 276.5,193.7 281.0,198.5 C285.5,203.3 292.7,209.8 295.0,212.0" fill="none" stroke="url(#g29)" stroke-width="9.0" stroke-linecap="round" opacity="1.00" filter="url(#b1_8)"/><path d="M206.0,-5.0 C207.0,-1.7 209.8,7.0 212.0,15.0 C214.2,23.0 215.3,31.2 219.0,43.0 C222.7,54.8 229.0,73.3 234.0,86.0 C239.0,98.7 244.0,108.2 249.0,119.0 C254.0,129.8 259.5,142.2 264.0,151.0 C268.5,159.8 273.0,166.8 276.0,172.0 C279.0,177.2 281.0,180.3 282.0,182.0" fill="none" stroke="#000000" stroke-width="12.0" stroke-linecap="round" opacity="1.00" filter="url(#b3)"/><path d="M206.0,-5.0 C207.0,-1.7 209.8,7.0 212.0,15.0 C214.2,23.0 215.3,31.2 219.0,43.0 C222.7,54.8 229.0,73.3 234.0,86.0 C239.0,98.7 244.0,108.2 249.0,119.0 C254.0,129.8 259.5,142.2 264.0,151.0 C268.5,159.8 273.0,166.8 276.0,172.0 C279.0,177.2 281.0,180.3 282.0,182.0" fill="none" stroke="#000000" stroke-width="6.0" stroke-linecap="round" opacity="1.00" filter="url(#b1)"/><path d="M268.0,187.7 L300.0,187.7" fill="none" stroke="#595959" stroke-width="5.0" stroke-linecap="butt" opacity="1.00" filter="url(#b1_5)"/><polygon points="276.0,176.0 295.0,176.0 295.0,185.0 282.0,185.0" fill="#050505" opacity="1.00" filter="url(#b2)"/></g><rect x="-2" y="0" width="291.2" height="1" fill="#000" opacity="0.85"/><rect x="-2" y="264.0" width="291.2" height="1" fill="#000" opacity="0.85"/></svg></div>
<div class="pn" style="left:75.5px;top:626.0px;width:290.0px;height:264.5px"><svg class="hm" width="290.0" height="266.0" viewBox="-1.5 0 290.0 266.0" preserveAspectRatio="none"><defs><linearGradient id="g30" x1="0" y1="0" x2="0" y2="1"><stop offset="0.0000" stop-color="#1a1a1a"/><stop offset="0.0113" stop-color="#212121"/><stop offset="0.0302" stop-color="#212121"/><stop offset="0.0491" stop-color="#121212"/><stop offset="0.1323" stop-color="#0f0f0f"/><stop offset="0.2079" stop-color="#1a1a1a"/><stop offset="0.2647" stop-color="#242424"/><stop offset="0.3214" stop-color="#333333"/><stop offset="0.3705" stop-color="#474747"/><stop offset="0.4159" stop-color="#5c5c5c"/><stop offset="0.4537" stop-color="#6b6b6b"/><stop offset="0.5482" stop-color="#616161"/><stop offset="0.5860" stop-color="#545454"/><stop offset="0.6238" stop-color="#4a4a4a"/><stop offset="0.6503" stop-color="#424242"/><stop offset="0.7032" stop-color="#3d3d3d"/><stop offset="0.7183" stop-color="#474747"/><stop offset="0.7486" stop-color="#474747"/><stop offset="0.7750" stop-color="#404040"/><stop offset="0.7940" stop-color="#2b2b2b"/><stop offset="0.8129" stop-color="#1a1a1a"/><stop offset="0.8393" stop-color="#0e0e0e"/><stop offset="1.0019" stop-color="#080808"/></linearGradient><linearGradient id="g31" gradientUnits="userSpaceOnUse" x1="210.0" y1="0" x2="251.0" y2="0"><stop offset="0.0000" stop-color="#141414"/><stop offset="0.3659" stop-color="#2e2e2e"/><stop offset="1.0000" stop-color="#3d3d3d"/></linearGradient><linearGradient id="g32" gradientUnits="userSpaceOnUse" x1="0.0" y1="0" x2="251.0" y2="0"><stop offset="0.0000" stop-color="#666666"/><stop offset="0.7968" stop-color="#656565"/><stop offset="0.9562" stop-color="#626262"/><stop offset="1.0000" stop-color="#5d5d5d"/></linearGradient><linearGradient id="g33" gradientUnits="userSpaceOnUse" x1="0.0" y1="0" x2="251.0" y2="0"><stop offset="0.0000" stop-color="#8f8f8f"/><stop offset="0.7968" stop-color="#8d8d8d"/><stop offset="0.9562" stop-color="#8a8a8a"/><stop offset="1.0000" stop-color="#828282"/></linearGradient><linearGradient id="g34" gradientUnits="userSpaceOnUse" x1="0.0" y1="0" x2="251.0" y2="0"><stop offset="0.0000" stop-color="#c7c7c7"/><stop offset="0.7968" stop-color="#c4c4c4"/><stop offset="0.9562" stop-color="#c0c0c0"/><stop offset="1.0000" stop-color="#b5b5b5"/></linearGradient><linearGradient id="g35" gradientUnits="userSpaceOnUse" x1="0.0" y1="0" x2="251.0" y2="0"><stop offset="0.0000" stop-color="#ffffff"/><stop offset="0.7968" stop-color="#f7f7f7"/><stop offset="0.9562" stop-color="#ebebeb"/><stop offset="1.0000" stop-color="#cccccc"/></linearGradient><linearGradient id="g36" gradientUnits="userSpaceOnUse" x1="255.0" y1="0" x2="300.0" y2="0"><stop offset="0.0000" stop-color="#616161"/><stop offset="1.0000" stop-color="#646464"/></linearGradient><linearGradient id="g37" gradientUnits="userSpaceOnUse" x1="255.0" y1="0" x2="300.0" y2="0"><stop offset="0.0000" stop-color="#888888"/><stop offset="1.0000" stop-color="#8c8c8c"/></linearGradient><linearGradient id="g38" gradientUnits="userSpaceOnUse" x1="255.0" y1="0" x2="300.0" y2="0"><stop offset="0.0000" stop-color="#bebebe"/><stop offset="1.0000" stop-color="#c2c2c2"/></linearGradient><linearGradient id="g39" gradientUnits="userSpaceOnUse" x1="255.0" y1="0" x2="300.0" y2="0"><stop offset="0.0000" stop-color="#e6e6e6"/><stop offset="1.0000" stop-color="#f2f2f2"/></linearGradient><linearGradient id="g40" gradientUnits="userSpaceOnUse" x1="0.0" y1="0" x2="245.0" y2="0"><stop offset="0.0000" stop-color="#8c8c8c"/><stop offset="0.8163" stop-color="#999999"/><stop offset="1.0000" stop-color="#999999"/></linearGradient></defs><g filter="url(#magmaN)"><rect x="-20" y="0" width="327" height="267" fill="url(#g30)"/><path d="M210.0,30.0 C214.0,39.3 227.2,70.8 234.0,86.0 C240.8,101.2 248.2,115.2 251.0,121.0" fill="none" stroke="url(#g31)" stroke-width="14.0" stroke-linecap="round" opacity="1.00" filter="url(#b6)"/><path d="M252.0,125.0 C254.7,130.0 263.2,146.0 268.0,155.0 C272.8,164.0 278.8,175.0 281.0,179.0" fill="none" stroke="#4c4c4c" stroke-width="12.0" stroke-linecap="round" opacity="0.70" filter="url(#b6)"/><path d="M-10.0,132.8 C8.3,132.7 65.0,132.4 100.0,132.0 C135.0,131.6 174.8,130.9 200.0,130.5 C225.2,130.1 242.5,129.9 251.0,129.8" fill="none" stroke="url(#g32)" stroke-width="40.0" stroke-linecap="round" opacity="1.00" filter="url(#b8)"/><path d="M-10.0,132.8 C8.3,132.7 65.0,132.4 100.0,132.0 C135.0,131.6 174.8,130.9 200.0,130.5 C225.2,130.1 242.5,129.9 251.0,129.8" fill="none" stroke="url(#g33)" stroke-width="24.0" stroke-linecap="round" opacity="1.00" filter="url(#b4_5)"/><path d="M-10.0,132.8 C8.3,132.7 65.0,132.4 100.0,132.0 C135.0,131.6 174.8,130.9 200.0,130.5 C225.2,130.1 242.5,129.9 251.0,129.8" fill="none" stroke="url(#g34)" stroke-width="15.0" stroke-linecap="round" opacity="1.00" filter="url(#b2_5)"/><path d="M-10.0,132.8 C8.3,132.7 65.0,132.4 100.0,132.0 C135.0,131.6 174.8,130.9 200.0,130.5 C225.2,130.1 242.5,129.9 251.0,129.8" fill="none" stroke="url(#g35)" stroke-width="9.0" stroke-linecap="round" opacity="1.00" filter="url(#b1_8)"/><path d="M255.0,118.0 L300.0,117.5" fill="none" stroke="url(#g36)" stroke-width="40.0" stroke-linecap="round" opacity="1.00" filter="url(#b8)"/><path d="M255.0,118.0 L300.0,117.5" fill="none" stroke="url(#g37)" stroke-width="24.0" stroke-linecap="round" opacity="1.00" filter="url(#b4_5)"/><path d="M255.0,118.0 L300.0,117.5" fill="none" stroke="url(#g38)" stroke-width="15.0" stroke-linecap="round" opacity="1.00" filter="url(#b2_5)"/><path d="M255.0,118.0 L300.0,117.5" fill="none" stroke="url(#g39)" stroke-width="9.0" stroke-linecap="round" opacity="1.00" filter="url(#b1_8)"/><path d="M-10.0,194.0 L245.0,194.3" fill="none" stroke="#616161" stroke-width="11.0" stroke-linecap="butt" opacity="1.00" filter="url(#b3)"/><path d="M-10.0,194.0 L245.0,194.3" fill="none" stroke="url(#g40)" stroke-width="6.0" stroke-linecap="butt" opacity="1.00" filter="url(#b1_5)"/><path d="M250.0,190.4 L300.0,190.4" fill="none" stroke="#666666" stroke-width="12.0" stroke-linecap="butt" opacity="1.00" filter="url(#b3)"/><path d="M250.0,190.4 L300.0,190.4" fill="none" stroke="#858585" stroke-width="6.0" stroke-linecap="butt" opacity="1.00" filter="url(#b1_5)"/></g><rect x="-2" y="0" width="291.0" height="1" fill="#000" opacity="0.85"/><rect x="-2" y="263.5" width="291.0" height="1" fill="#000" opacity="0.85"/></svg></div>
<div class="pn" style="left:387.8px;top:626.0px;width:290.2px;height:264.5px"><svg class="hm" width="290.2" height="266.0" viewBox="-1.5 0 290.2 266.0" preserveAspectRatio="none"><defs><linearGradient id="g41" x1="0" y1="0" x2="0" y2="1"><stop offset="0.0000" stop-color="#050505"/><stop offset="0.1059" stop-color="#080808"/><stop offset="0.1701" stop-color="#1a1a1a"/><stop offset="0.2268" stop-color="#262626"/><stop offset="0.2836" stop-color="#333333"/><stop offset="0.3403" stop-color="#424242"/><stop offset="0.3970" stop-color="#575757"/><stop offset="0.4461" stop-color="#737373"/><stop offset="0.5595" stop-color="#787878"/><stop offset="0.6238" stop-color="#6b6b6b"/><stop offset="0.6730" stop-color="#616161"/><stop offset="0.7146" stop-color="#595959"/><stop offset="0.7221" stop-color="#737373"/><stop offset="0.7372" stop-color="#737373"/><stop offset="0.7429" stop-color="#474747"/><stop offset="0.8129" stop-color="#333333"/><stop offset="0.9074" stop-color="#212121"/><stop offset="0.9981" stop-color="#141414"/></linearGradient><linearGradient id="g42" gradientUnits="userSpaceOnUse" x1="0.0" y1="0" x2="253.0" y2="0"><stop offset="0.0000" stop-color="#666666"/><stop offset="0.7905" stop-color="#666666"/><stop offset="0.9605" stop-color="#646464"/><stop offset="1.0000" stop-color="#5d5d5d"/></linearGradient><linearGradient id="g43" gradientUnits="userSpaceOnUse" x1="0.0" y1="0" x2="253.0" y2="0"><stop offset="0.0000" stop-color="#8f8f8f"/><stop offset="0.7905" stop-color="#8f8f8f"/><stop offset="0.9605" stop-color="#8c8c8c"/><stop offset="1.0000" stop-color="#828282"/></linearGradient><linearGradient id="g44" gradientUnits="userSpaceOnUse" x1="0.0" y1="0" x2="253.0" y2="0"><stop offset="0.0000" stop-color="#c7c7c7"/><stop offset="0.7905" stop-color="#c7c7c7"/><stop offset="0.9605" stop-color="#c2c2c2"/><stop offset="1.0000" stop-color="#b5b5b5"/></linearGradient><linearGradient id="g45" gradientUnits="userSpaceOnUse" x1="0.0" y1="0" x2="253.0" y2="0"><stop offset="0.0000" stop-color="#ffffff"/><stop offset="0.7905" stop-color="#ffffff"/><stop offset="0.9605" stop-color="#f2f2f2"/><stop offset="1.0000" stop-color="#cccccc"/></linearGradient><linearGradient id="g46" gradientUnits="userSpaceOnUse" x1="263.0" y1="0" x2="300.0" y2="0"><stop offset="0.0000" stop-color="#5f5f5f"/><stop offset="0.3243" stop-color="#646464"/><stop offset="1.0000" stop-color="#656565"/></linearGradient><linearGradient id="g47" gradientUnits="userSpaceOnUse" x1="263.0" y1="0" x2="300.0" y2="0"><stop offset="0.0000" stop-color="#858585"/><stop offset="0.3243" stop-color="#8c8c8c"/><stop offset="1.0000" stop-color="#8d8d8d"/></linearGradient><linearGradient id="g48" gradientUnits="userSpaceOnUse" x1="263.0" y1="0" x2="300.0" y2="0"><stop offset="0.0000" stop-color="#b9b9b9"/><stop offset="0.3243" stop-color="#c2c2c2"/><stop offset="1.0000" stop-color="#c4c4c4"/></linearGradient><linearGradient id="g49" gradientUnits="userSpaceOnUse" x1="263.0" y1="0" x2="300.0" y2="0"><stop offset="0.0000" stop-color="#d9d9d9"/><stop offset="0.3243" stop-color="#f2f2f2"/><stop offset="1.0000" stop-color="#f7f7f7"/></linearGradient></defs><g filter="url(#magma)"><rect x="-20" y="0" width="327" height="267" fill="url(#g41)"/><path d="M215.0,40.0 C218.2,47.7 228.5,73.0 234.0,86.0 C239.5,99.0 245.7,112.7 248.0,118.0" fill="none" stroke="#1f1f1f" stroke-width="8.0" stroke-linecap="round" opacity="0.40" filter="url(#b4)"/><path d="M222.0,45.0 C225.0,51.8 234.7,73.8 240.0,86.0 C245.3,98.2 251.7,112.7 254.0,118.0" fill="none" stroke="#4c4c4c" stroke-width="10.0" stroke-linecap="round" opacity="0.40" filter="url(#b5)"/><path d="M-10.0,134.8 C8.3,134.8 57.8,134.8 100.0,134.8 C142.2,134.8 217.5,134.3 243.0,134.8 C268.5,135.3 251.3,137.5 253.0,138.0" fill="none" stroke="url(#g42)" stroke-width="48.0" stroke-linecap="round" opacity="1.00" filter="url(#b11)"/><path d="M-10.0,134.8 C8.3,134.8 57.8,134.8 100.0,134.8 C142.2,134.8 217.5,134.3 243.0,134.8 C268.5,135.3 251.3,137.5 253.0,138.0" fill="none" stroke="url(#g43)" stroke-width="28.0" stroke-linecap="round" opacity="1.00" filter="url(#b6)"/><path d="M-10.0,134.8 C8.3,134.8 57.8,134.8 100.0,134.8 C142.2,134.8 217.5,134.3 243.0,134.8 C268.5,135.3 251.3,137.5 253.0,138.0" fill="none" stroke="url(#g44)" stroke-width="17.0" stroke-linecap="round" opacity="1.00" filter="url(#b3)"/><path d="M-10.0,134.8 C8.3,134.8 57.8,134.8 100.0,134.8 C142.2,134.8 217.5,134.3 243.0,134.8 C268.5,135.3 251.3,137.5 253.0,138.0" fill="none" stroke="url(#g45)" stroke-width="10.0" stroke-linecap="round" opacity="1.00" filter="url(#b2)"/><path d="M263.0,127.5 L300.0,127.5" fill="none" stroke="url(#g46)" stroke-width="48.0" stroke-linecap="round" opacity="1.00" filter="url(#b11)"/><path d="M263.0,127.5 L300.0,127.5" fill="none" stroke="url(#g47)" stroke-width="28.0" stroke-linecap="round" opacity="1.00" filter="url(#b6)"/><path d="M263.0,127.5 L300.0,127.5" fill="none" stroke="url(#g48)" stroke-width="17.0" stroke-linecap="round" opacity="1.00" filter="url(#b3)"/><path d="M263.0,127.5 L300.0,127.5" fill="none" stroke="url(#g49)" stroke-width="10.0" stroke-linecap="round" opacity="1.00" filter="url(#b2)"/><path d="M252.0,140.0 C254.7,143.3 263.2,153.3 268.0,160.0 C272.8,166.7 277.3,174.7 281.0,180.0 C284.7,185.3 288.5,190.0 290.0,192.0" fill="none" stroke="#545454" stroke-width="12.0" stroke-linecap="round" opacity="1.00" filter="url(#b5)"/><path d="M-10.0,191.5 L300.0,191.5" fill="none" stroke="#808080" stroke-width="5.0" stroke-linecap="butt" opacity="1.00" filter="url(#b1_5)"/></g><rect x="-2" y="0" width="291.2" height="1" fill="#000" opacity="0.85"/><rect x="-2" y="263.5" width="291.2" height="1" fill="#000" opacity="0.85"/></svg></div>
<div class="pn" style="left:75.5px;top:908.7px;width:290.0px;height:262.8px"><svg class="hm" width="290.0" height="262.8" viewBox="-1.5 0 290.0 262.8" preserveAspectRatio="none"><defs><linearGradient id="g50" x1="0" y1="0" x2="0" y2="1"><stop offset="0.0000" stop-color="#1a1a1a"/><stop offset="0.0115" stop-color="#212121"/><stop offset="0.0306" stop-color="#212121"/><stop offset="0.0498" stop-color="#121212"/><stop offset="0.1339" stop-color="#0f0f0f"/><stop offset="0.2105" stop-color="#1a1a1a"/><stop offset="0.2679" stop-color="#242424"/><stop offset="0.3253" stop-color="#333333"/><stop offset="0.3750" stop-color="#474747"/><stop offset="0.4210" stop-color="#5c5c5c"/><stop offset="0.4592" stop-color="#6b6b6b"/><stop offset="0.5549" stop-color="#616161"/><stop offset="0.5932" stop-color="#545454"/><stop offset="0.6315" stop-color="#474747"/><stop offset="0.6582" stop-color="#404040"/><stop offset="0.7118" stop-color="#3b3b3b"/><stop offset="0.7271" stop-color="#454545"/><stop offset="0.7577" stop-color="#454545"/><stop offset="0.7845" stop-color="#383838"/><stop offset="0.7960" stop-color="#333333"/><stop offset="0.8037" stop-color="#212121"/><stop offset="0.8132" stop-color="#121212"/><stop offset="0.8802" stop-color="#0b0b0b"/><stop offset="1.0027" stop-color="#080808"/></linearGradient><linearGradient id="g51" gradientUnits="userSpaceOnUse" x1="0.0" y1="0" x2="287.0" y2="0"><stop offset="0.0000" stop-color="#666666"/><stop offset="1.0000" stop-color="#666666"/></linearGradient><linearGradient id="g52" gradientUnits="userSpaceOnUse" x1="0.0" y1="0" x2="287.0" y2="0"><stop offset="0.0000" stop-color="#8f8f8f"/><stop offset="1.0000" stop-color="#8f8f8f"/></linearGradient><linearGradient id="g53" gradientUnits="userSpaceOnUse" x1="0.0" y1="0" x2="287.0" y2="0"><stop offset="0.0000" stop-color="#c7c7c7"/><stop offset="1.0000" stop-color="#c7c7c7"/></linearGradient><linearGradient id="g54" gradientUnits="userSpaceOnUse" x1="0.0" y1="0" x2="287.0" y2="0"><stop offset="0.0000" stop-color="#ffffff"/><stop offset="1.0000" stop-color="#ffffff"/></linearGradient><linearGradient id="g55" gradientUnits="userSpaceOnUse" x1="0.0" y1="0" x2="244.0" y2="0"><stop offset="0.0000" stop-color="#8c8c8c"/><stop offset="1.0000" stop-color="#949494"/></linearGradient></defs><g filter="url(#magmaN)"><rect x="-20" y="0" width="327" height="264" fill="url(#g50)"/><path d="M-10.0,131.2 C8.3,131.1 73.7,130.8 100.0,130.5 C126.3,130.2 131.3,130.0 148.0,129.5 C164.7,129.0 183.0,128.2 200.0,127.5 C217.0,126.8 233.3,125.8 250.0,125.0 C266.7,124.2 291.7,123.1 300.0,122.7" fill="none" stroke="url(#g51)" stroke-width="40.0" stroke-linecap="round" opacity="1.00" filter="url(#b8)"/><path d="M-10.0,131.2 C8.3,131.1 73.7,130.8 100.0,130.5 C126.3,130.2 131.3,130.0 148.0,129.5 C164.7,129.0 183.0,128.2 200.0,127.5 C217.0,126.8 233.3,125.8 250.0,125.0 C266.7,124.2 291.7,123.1 300.0,122.7" fill="none" stroke="url(#g52)" stroke-width="24.0" stroke-linecap="round" opacity="1.00" filter="url(#b4_5)"/><path d="M-10.0,131.2 C8.3,131.1 73.7,130.8 100.0,130.5 C126.3,130.2 131.3,130.0 148.0,129.5 C164.7,129.0 183.0,128.2 200.0,127.5 C217.0,126.8 233.3,125.8 250.0,125.0 C266.7,124.2 291.7,123.1 300.0,122.7" fill="none" stroke="url(#g53)" stroke-width="15.0" stroke-linecap="round" opacity="1.00" filter="url(#b2_5)"/><path d="M-10.0,131.2 C8.3,131.1 73.7,130.8 100.0,130.5 C126.3,130.2 131.3,130.0 148.0,129.5 C164.7,129.0 183.0,128.2 200.0,127.5 C217.0,126.8 233.3,125.8 250.0,125.0 C266.7,124.2 291.7,123.1 300.0,122.7" fill="none" stroke="url(#g54)" stroke-width="9.0" stroke-linecap="round" opacity="1.00" filter="url(#b1_8)"/><path d="M-10.0,194.0 L244.0,194.2" fill="none" stroke="#616161" stroke-width="11.0" stroke-linecap="butt" opacity="1.00" filter="url(#b3)"/><path d="M-10.0,194.0 L244.0,194.2" fill="none" stroke="url(#g55)" stroke-width="6.0" stroke-linecap="butt" opacity="1.00" filter="url(#b1_5)"/><path d="M250.0,190.8 L300.0,190.8" fill="none" stroke="#666666" stroke-width="12.0" stroke-linecap="butt" opacity="1.00" filter="url(#b3)"/><path d="M250.0,190.8 L300.0,190.8" fill="none" stroke="#8c8c8c" stroke-width="6.0" stroke-linecap="butt" opacity="1.00" filter="url(#b1_5)"/><path d="M-10.0,209.2 L55.0,209.2" fill="none" stroke="#737373" stroke-width="1.6" stroke-linecap="butt" opacity="1.00" filter="url(#b0_5)"/></g><rect x="-2" y="0" width="291.0" height="1" fill="#000" opacity="0.85"/><rect x="-2" y="260.3" width="291.0" height="1" fill="#000" opacity="0.85"/></svg></div>
<div class="pn" style="left:387.8px;top:908.7px;width:290.2px;height:262.8px"><svg class="hm" width="290.2" height="262.8" viewBox="-1.5 0 290.2 262.8" preserveAspectRatio="none"><defs><linearGradient id="g56" x1="0" y1="0" x2="0" y2="1"><stop offset="0.0000" stop-color="#050505"/><stop offset="0.1339" stop-color="#080808"/><stop offset="0.1837" stop-color="#171717"/><stop offset="0.2334" stop-color="#212121"/><stop offset="0.2909" stop-color="#333333"/><stop offset="0.3521" stop-color="#424242"/><stop offset="0.3942" stop-color="#545454"/><stop offset="0.4363" stop-color="#6b6b6b"/><stop offset="0.5549" stop-color="#757575"/><stop offset="0.6123" stop-color="#6b6b6b"/><stop offset="0.6697" stop-color="#5e5e5e"/><stop offset="0.7195" stop-color="#575757"/><stop offset="0.7271" stop-color="#737373"/><stop offset="0.7501" stop-color="#737373"/><stop offset="0.7577" stop-color="#3d3d3d"/><stop offset="0.8381" stop-color="#262626"/><stop offset="0.9185" stop-color="#1a1a1a"/><stop offset="0.9989" stop-color="#121212"/></linearGradient><linearGradient id="g57" gradientUnits="userSpaceOnUse" x1="0.0" y1="0" x2="287.0" y2="0"><stop offset="0.0000" stop-color="#666666"/><stop offset="1.0000" stop-color="#666666"/></linearGradient><linearGradient id="g58" gradientUnits="userSpaceOnUse" x1="0.0" y1="0" x2="287.0" y2="0"><stop offset="0.0000" stop-color="#8f8f8f"/><stop offset="1.0000" stop-color="#8f8f8f"/></linearGradient><linearGradient id="g59" gradientUnits="userSpaceOnUse" x1="0.0" y1="0" x2="287.0" y2="0"><stop offset="0.0000" stop-color="#c7c7c7"/><stop offset="1.0000" stop-color="#c7c7c7"/></linearGradient><linearGradient id="g60" gradientUnits="userSpaceOnUse" x1="0.0" y1="0" x2="287.0" y2="0"><stop offset="0.0000" stop-color="#ffffff"/><stop offset="1.0000" stop-color="#ffffff"/></linearGradient></defs><g filter="url(#magma)"><rect x="-20" y="0" width="327" height="264" fill="url(#g56)"/><path d="M-10.0,132.5 L300.0,132.5" fill="none" stroke="url(#g57)" stroke-width="48.0" stroke-linecap="round" opacity="1.00" filter="url(#b11)"/><path d="M-10.0,132.5 L300.0,132.5" fill="none" stroke="url(#g58)" stroke-width="28.0" stroke-linecap="round" opacity="1.00" filter="url(#b6)"/><path d="M-10.0,132.5 L300.0,132.5" fill="none" stroke="url(#g59)" stroke-width="17.0" stroke-linecap="round" opacity="1.00" filter="url(#b3)"/><path d="M-10.0,132.5 L300.0,132.5" fill="none" stroke="url(#g60)" stroke-width="10.0" stroke-linecap="round" opacity="1.00" filter="url(#b2)"/><path d="M-10.0,193.5 L300.0,193.5" fill="none" stroke="#808080" stroke-width="5.0" stroke-linecap="butt" opacity="1.00" filter="url(#b1_5)"/></g><rect x="-2" y="0" width="291.2" height="1" fill="#000" opacity="0.85"/><rect x="-2" y="260.3" width="291.2" height="1" fill="#000" opacity="0.85"/></svg></div>
<svg width="685" height="1228" style="position:absolute;left:0;top:0;z-index:3;will-change:transform" font-family="Liberation Sans"><text x="139.00" y="42.30" font-size="30.00" font-weight="bold" fill="#000" text-anchor="start" textLength="168.5" lengthAdjust="spacingAndGlyphs">Experiment</text>
<text x="475.50" y="41.70" font-size="30.00" font-weight="bold" fill="#000" text-anchor="start" textLength="102.5" lengthAdjust="spacingAndGlyphs">Theory</text>
<text x="64.10" y="107.50" font-size="22.50" font-weight="normal" fill="#111" text-anchor="end" letter-spacing="0.30">1.2</text>
<text x="64.10" y="196.20" font-size="22.50" font-weight="normal" fill="#111" text-anchor="end" letter-spacing="0.30">1.0</text>
<text x="64.10" y="284.90" font-size="22.50" font-weight="normal" fill="#111" text-anchor="end" letter-spacing="0.30">0.8</text>
<g transform="translate(19.60,190.00) rotate(-90)"><text x="-34.20" y="0.00" font-size="24.00" font-weight="normal" fill="#111" text-anchor="start" >&#937;</text><text x="-12.40" y="0.00" font-size="24.00" font-weight="normal" fill="#111" text-anchor="start" >/</text><text x="-0.30" y="0.00" font-size="24.00" font-weight="normal" fill="#111" text-anchor="start" >&#937;</text><text x="19.60" y="4.20" font-size="18.00" font-weight="normal" fill="#111" text-anchor="start" font-style="italic">m</text></g>
<text x="63.50" y="393.50" font-size="22.50" font-weight="normal" fill="#111" text-anchor="end" letter-spacing="0.30">1.2</text>
<text x="63.50" y="482.20" font-size="22.50" font-weight="normal" fill="#111" text-anchor="end" letter-spacing="0.30">1.0</text>
<text x="63.50" y="570.90" font-size="22.50" font-weight="normal" fill="#111" text-anchor="end" letter-spacing="0.30">0.8</text>
<g transform="translate(19.60,475.50) rotate(-90)"><text x="-34.20" y="0.00" font-size="24.00" font-weight="normal" fill="#111" text-anchor="start" >&#937;</text><text x="-12.40" y="0.00" font-size="24.00" font-weight="normal" fill="#111" text-anchor="start" >/</text><text x="-0.30" y="0.00" font-size="24.00" font-weight="normal" fill="#111" text-anchor="start" >&#937;</text><text x="19.60" y="4.20" font-size="18.00" font-weight="normal" fill="#111" text-anchor="start" font-style="italic">m</text></g>
<text x="62.00" y="677.40" font-size="22.50" font-weight="normal" fill="#111" text-anchor="end" letter-spacing="0.30">1.2</text>
<text x="62.00" y="766.10" font-size="22.50" font-weight="normal" fill="#111" text-anchor="end" letter-spacing="0.30">1.0</text>
<text x="62.00" y="854.80" font-size="22.50" font-weight="normal" fill="#111" text-anchor="end" letter-spacing="0.30">0.8</text>
<g transform="translate(19.60,760.00) rotate(-90)"><text x="-34.20" y="0.00" font-size="24.00" font-weight="normal" fill="#111" text-anchor="start" >&#937;</text><text x="-12.40" y="0.00" font-size="24.00" font-weight="normal" fill="#111" text-anchor="start" >/</text><text x="-0.30" y="0.00" font-size="24.00" font-weight="normal" fill="#111" text-anchor="start" >&#937;</text><text x="19.60" y="4.20" font-size="18.00" font-weight="normal" fill="#111" text-anchor="start" font-style="italic">m</text></g>
<text x="63.50" y="960.50" font-size="22.50" font-weight="normal" fill="#111" text-anchor="end" letter-spacing="0.30">1.2</text>
<text x="63.50" y="1049.20" font-size="22.50" font-weight="normal" fill="#111" text-anchor="end" letter-spacing="0.30">1.0</text>
<text x="63.50" y="1137.90" font-size="22.50" font-weight="normal" fill="#111" text-anchor="end" letter-spacing="0.30">0.8</text>
<g transform="translate(19.60,1042.60) rotate(-90)"><text x="-34.20" y="0.00" font-size="24.00" font-weight="normal" fill="#111" text-anchor="start" >&#937;</text><text x="-12.40" y="0.00" font-size="24.00" font-weight="normal" fill="#111" text-anchor="start" >/</text><text x="-0.30" y="0.00" font-size="24.00" font-weight="normal" fill="#111" text-anchor="start" >&#937;</text><text x="19.60" y="4.20" font-size="18.00" font-weight="normal" fill="#111" text-anchor="start" font-style="italic">m</text></g>
<rect x="101.00" y="1190.10" width="13.4" height="1.75" fill="#111"/>
<text x="116.20" y="1197.40" font-size="22.50" font-weight="normal" fill="#111" text-anchor="start" letter-spacing="0.60">2.0</text>
<rect x="209.20" y="1190.10" width="13.4" height="1.75" fill="#111"/>
<text x="224.40" y="1197.40" font-size="22.50" font-weight="normal" fill="#111" text-anchor="start" letter-spacing="0.60">1.5</text>
<rect x="316.00" y="1190.10" width="13.4" height="1.75" fill="#111"/>
<text x="331.20" y="1197.40" font-size="22.50" font-weight="normal" fill="#111" text-anchor="start" letter-spacing="0.60">1.0</text>
<g transform="translate(220.80,1223.60)"><text x="-34.00" y="0.00" font-size="24.00" font-weight="normal" fill="#111" text-anchor="start" >&#916;</text><text x="-14.00" y="0.00" font-size="24.00" font-weight="normal" fill="#111" text-anchor="start" >/</text><text x="-1.00" y="0.00" font-size="24.00" font-weight="normal" fill="#111" text-anchor="start" >&#937;</text><text x="17.00" y="3.00" font-size="18.00" font-weight="normal" fill="#111" text-anchor="start" font-style="italic">m</text></g>
<rect x="413.50" y="1190.10" width="13.4" height="1.75" fill="#111"/>
<text x="428.70" y="1197.40" font-size="22.50" font-weight="normal" fill="#111" text-anchor="start" letter-spacing="0.60">2.0</text>
<rect x="521.00" y="1190.10" width="13.4" height="1.75" fill="#111"/>
<text x="536.20" y="1197.40" font-size="22.50" font-weight="normal" fill="#111" text-anchor="start" letter-spacing="0.60">1.5</text>
<rect x="628.00" y="1190.10" width="13.4" height="1.75" fill="#111"/>
<text x="643.20" y="1197.40" font-size="22.50" font-weight="normal" fill="#111" text-anchor="start" letter-spacing="0.60">1.0</text>
<g transform="translate(532.70,1223.60)"><text x="-34.00" y="0.00" font-size="24.00" font-weight="normal" fill="#111" text-anchor="start" >&#916;</text><text x="-14.00" y="0.00" font-size="24.00" font-weight="normal" fill="#111" text-anchor="start" >/</text><text x="-1.00" y="0.00" font-size="24.00" font-weight="normal" fill="#111" text-anchor="start" >&#937;</text><text x="17.00" y="3.00" font-size="18.00" font-weight="normal" fill="#111" text-anchor="start" font-style="italic">m</text></g>
<text x="82.50" y="82.80" font-size="23.00" font-weight="bold" fill="#fff" text-anchor="start" >a)</text>
<text x="399.10" y="81.90" font-size="22.50" font-weight="bold" fill="#fff" text-anchor="start" >g</text><text x="411.90" y="85.60" font-size="22.50" font-weight="bold" fill="#fff" text-anchor="start" >y</text><text x="431.50" y="81.90" font-size="22.50" font-weight="bold" fill="#fff" text-anchor="start" >/</text><text x="445.90" y="81.90" font-size="22.50" font-weight="bold" fill="#fff" text-anchor="start" letter-spacing="0.50">2&#960; = 22.8 kHz</text>
<text x="82.50" y="374.40" font-size="23.00" font-weight="bold" fill="#fff" text-anchor="start" >b)</text>
<text x="397.50" y="372.20" font-size="22.50" font-weight="bold" fill="#fff" text-anchor="start" >g</text><text x="410.30" y="375.90" font-size="22.50" font-weight="bold" fill="#fff" text-anchor="start" >y</text><text x="429.90" y="372.20" font-size="22.50" font-weight="bold" fill="#fff" text-anchor="start" >/</text><text x="444.30" y="372.20" font-size="22.50" font-weight="bold" fill="#fff" text-anchor="start" letter-spacing="0.50">2&#960; = 15.4 kHz</text>
<text x="82.50" y="658.70" font-size="23.00" font-weight="bold" fill="#fff" text-anchor="start" >c)</text>
<text x="397.70" y="658.00" font-size="22.50" font-weight="bold" fill="#fff" text-anchor="start" >g</text><text x="410.50" y="661.70" font-size="22.50" font-weight="bold" fill="#fff" text-anchor="start" >y</text><text x="430.10" y="658.00" font-size="22.50" font-weight="bold" fill="#fff" text-anchor="start" >/</text><text x="444.50" y="658.00" font-size="22.50" font-weight="bold" fill="#fff" text-anchor="start" letter-spacing="0.50">2&#960; = 4.6 kHz</text>
<text x="82.50" y="939.80" font-size="23.00" font-weight="bold" fill="#fff" text-anchor="start" >d)</text>
<text x="398.90" y="937.60" font-size="22.50" font-weight="bold" fill="#fff" text-anchor="start" >g</text><text x="411.70" y="941.30" font-size="22.50" font-weight="bold" fill="#fff" text-anchor="start" >y</text><text x="431.30" y="937.60" font-size="22.50" font-weight="bold" fill="#fff" text-anchor="start" >/</text><text x="445.70" y="937.60" font-size="22.50" font-weight="bold" fill="#fff" text-anchor="start" letter-spacing="0.50">2&#960; = &#160;&#160;0 kHz</text></svg>
</body></html>
